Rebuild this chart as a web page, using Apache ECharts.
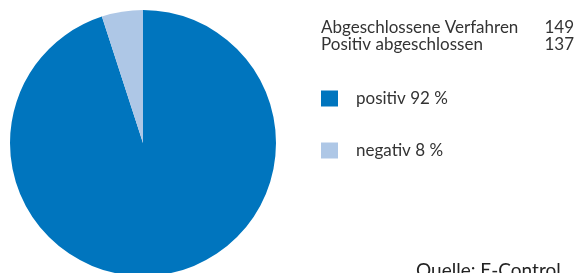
<!DOCTYPE html>
<html>
<head>
<meta charset="utf-8">
<script src="https://cdn.jsdelivr.net/npm/echarts@6/dist/echarts.min.js"></script>
<style>
html,body{margin:0;padding:0;background:#fff;}
#chart{width:581px;height:273px;}
</style>
</head>
<body>
<div id="chart"></div>
<script>
// Data
const sliceNames = ['positiv 92 %', 'negativ 8 %'];
const sliceValues = [95, 5];   // drawn slice proportions
const sliceColors = ['#0075BE', '#AEC7E6'];
const infoLabels = ['Abgeschlossene Verfahren', 'Positiv abgeschlossen'];
const infoValues = ['149', '137'];
const sourceText = 'Quelle: E-Control';

const font = 'Lato, "Open Sans", sans-serif';
const txtColor = '#333333';
const chart = echarts.init(document.getElementById('chart'), null, {renderer: 'canvas'});
chart.setOption({
  animation: false,
  backgroundColor: '#ffffff',
  title: [
    {
      text: infoLabels.join('\n'),
      left: 316, top: 14,
      textStyle: {fontFamily: font, fontSize: 17, fontWeight: 'normal', color: txtColor, lineHeight: 17}
    },
    {
      text: sourceText,
      left: 411, top: 256,
      textStyle: {fontFamily: font, fontSize: 19, fontWeight: 'normal', color: '#222222'}
    }
  ],
  graphic: infoValues.map((v, i) => ({
    type: 'text',
    right: 7,
    top: 19 + i * 17,
    style: {text: v, font: '17px ' + font, fill: txtColor}
  })),
  legend: {
    orient: 'vertical',
    left: 316, top: 85,
    itemWidth: 17, itemHeight: 16,
    itemGap: 35,
    icon: 'rect',
    selectedMode: false,
    data: sliceNames,
    textStyle: {fontFamily: font, fontSize: 17, color: txtColor, padding: [0, 0, 0, 13]}
  },
  series: [{
    type: 'pie',
    center: [143, 143],
    radius: 133,
    startAngle: 90,
    clockwise: true,
    silent: true,
    label: {show: false},
    labelLine: {show: false},
    itemStyle: {borderWidth: 0},
    data: sliceNames.map((n, i) => ({name: n, value: sliceValues[i], itemStyle: {color: sliceColors[i]}}))
  }]
});
</script>
</body>
</html>
